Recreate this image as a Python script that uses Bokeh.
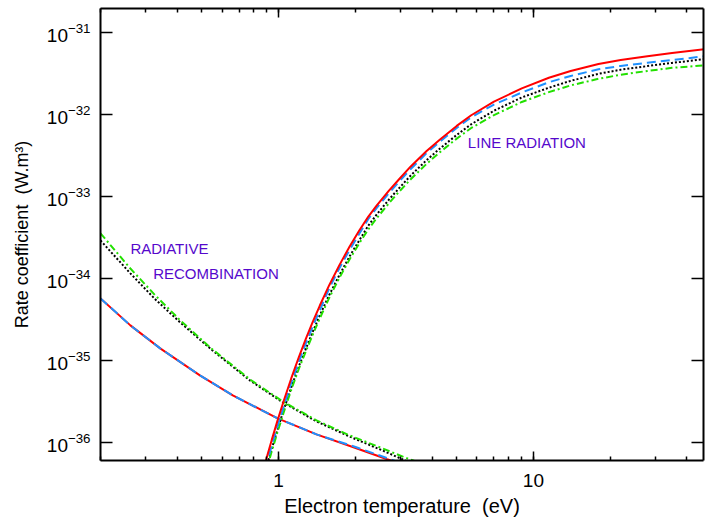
from bokeh.plotting import figure
from bokeh.models import LogAxis, LogTicker, Label, Range1d, CustomJSTickFormatter
from bokeh.embed import file_html
from bokeh.resources import INLINE

# ---------------- data ----------------
# Line radiation: electron temperature (eV) shared by the four models
lr_T = [0.83, 0.89, 0.94, 0.99, 1.05, 1.12, 1.2, 1.28, 1.36, 1.45, 1.58, 1.73, 1.9, 2.07, 2.25, 2.42,
        2.7, 2.97, 3.3, 3.8, 4.3, 5.0, 5.7, 7.0, 9.0, 11.5, 14, 18, 22, 28, 35, 47]
lr_red = [2.62e-37, 5.92e-37, 1.07e-36, 1.84e-36, 3.28e-36, 5.97e-36, 1.09e-35, 1.84e-35, 2.92e-35, 4.63e-35,
          8.26e-35, 1.44e-34, 2.45e-34, 3.81e-34, 5.68e-34, 7.67e-34, 1.16e-33, 1.62e-33, 2.32e-33, 3.55e-33,
          4.95e-33, 7.24e-33, 9.77e-33, 1.43e-32, 2.08e-32, 2.80e-32, 3.39e-32, 4.12e-32, 4.62e-32, 5.13e-32,
          5.60e-32, 6.24e-32]
lr_blue = [2.23e-37, 5.04e-37, 9.14e-37, 1.57e-36, 2.79e-36, 5.26e-36, 9.57e-36, 1.62e-35, 2.58e-35, 4.08e-35,
           7.53e-35, 1.32e-34, 2.23e-34, 3.48e-34, 5.30e-34, 7.16e-34, 1.08e-33, 1.51e-33, 2.16e-33, 3.35e-33,
           4.68e-33, 6.84e-33, 9.23e-33, 1.32e-32, 1.85e-32, 2.47e-32, 2.95e-32, 3.55e-32, 3.91e-32, 4.27e-32,
           4.60e-32, 5.13e-32]
lr_black = [2.04e-37, 4.59e-37, 8.34e-37, 1.43e-36, 2.55e-36, 4.63e-36, 8.43e-36, 1.39e-35, 2.22e-35, 3.52e-35,
            6.27e-35, 1.09e-34, 1.86e-34, 2.89e-34, 4.41e-34, 5.96e-34, 9.02e-34, 1.26e-33, 1.80e-33, 2.75e-33,
            3.85e-33, 5.62e-33, 7.59e-33, 1.11e-32, 1.61e-32, 2.12e-32, 2.57e-32, 3.13e-32, 3.51e-32, 3.89e-32,
            4.25e-32, 4.73e-32]
lr_green = [1.90e-37, 4.29e-37, 7.78e-37, 1.33e-36, 2.38e-36, 4.33e-36, 7.87e-36, 1.29e-35, 2.05e-35, 3.24e-35,
            5.78e-35, 1.01e-34, 1.71e-34, 2.67e-34, 3.97e-34, 5.37e-34, 8.13e-34, 1.14e-33, 1.62e-33, 2.48e-33,
            3.47e-33, 5.07e-33, 6.84e-33, 9.79e-33, 1.42e-32, 1.87e-32, 2.26e-32, 2.72e-32, 3.05e-32, 3.39e-32,
            3.70e-32, 3.98e-32]

# Radiative recombination
rr_red_T = [0.2, 0.262, 0.343, 0.491, 0.661, 0.991, 1.408, 2.018, 2.667, 3.556]
rr_red_R = [5.70e-35, 2.67e-35, 1.40e-35, 6.56e-36, 3.74e-36, 1.96e-36, 1.25e-36, 8.45e-37, 6.21e-37, 4.56e-37]

rr_blue_T = [0.2, 0.262, 0.343, 0.491, 0.661, 0.991, 1.408, 2.018, 2.667, 3.556]
rr_blue_R = [5.70e-35, 2.67e-35, 1.40e-35, 6.56e-36, 3.74e-36, 1.96e-36, 1.25e-36, 8.70e-37, 6.40e-37, 4.70e-37]

rr_green_T = [0.2, 0.262, 0.328, 0.411, 0.538, 0.771, 1.037, 1.408, 1.894, 2.550, 3.192, 4.257]
rr_green_R = [3.54e-34, 1.32e-34, 6.21e-35, 3.08e-35, 1.44e-35, 5.86e-36, 3.16e-36, 1.85e-36, 1.22e-36, 8.45e-37, 6.38e-37, 4.69e-37]

rr_black_T = [0.2, 0.262, 0.328, 0.411, 0.538, 0.771, 1.037, 1.408, 1.894, 2.550, 3.192, 4.257]
rr_black_R = [2.90e-34, 1.15e-34, 5.55e-35, 2.90e-35, 1.40e-35, 5.70e-36, 3.08e-36, 1.80e-36, 1.18e-36, 7.98e-37, 5.86e-37, 4.31e-37]

labels = ["RADIATIVE", "RECOMBINATION", "LINE RADIATION"]
label_T = [0.262, 0.322, 5.53]
label_R = [2.32e-34, 1.15e-34, 4.56e-33]

x_lo, x_hi = 0.2, 46.5
y_lo, y_hi = 6.0e-37, 1.96e-31

# ---------------- figure ----------------
FONT = "Liberation Sans"
p = figure(width=707, height=527, x_axis_type="log", y_axis_type="log",
           x_range=Range1d(x_lo, x_hi), y_range=Range1d(y_lo, y_hi),
           output_backend="svg", toolbar_location=None,
           min_border_left=100, min_border_right=1, min_border_top=8, min_border_bottom=67)
p.background_fill_color = "white"
p.border_fill_color = "white"
p.outline_line_color = None
p.grid.visible = False

def style_axis(ax, major_len, minor_on, show_labels):
    ax.axis_line_color = "black"
    ax.axis_line_width = 2
    ax.major_tick_in = major_len
    ax.major_tick_out = 0
    ax.major_tick_line_color = "black"
    ax.major_tick_line_width = 1.5
    if minor_on:
        ax.minor_tick_in = 4
        ax.minor_tick_out = 0
        ax.minor_tick_line_color = "black"
        ax.minor_tick_line_width = 1.5
    else:
        ax.minor_tick_line_color = None
    ax.major_label_text_font = FONT
    ax.major_label_text_font_size = "19px"
    ax.major_label_text_color = "black"
    ax.axis_label_text_font = FONT
    ax.axis_label_text_font_style = "normal"
    ax.axis_label_text_font_size = "18px"
    ax.axis_label_text_color = "black"
    if not show_labels:
        ax.formatter = CustomJSTickFormatter(code="return ''")
        ax.major_label_standoff = 0

xa = p.xaxis[0]
xa.ticker = LogTicker(num_minor_ticks=10)
style_axis(xa, 9, True, True)
xa.formatter = CustomJSTickFormatter(code="return tick.toString()")
xa.axis_label = "Electron temperature\u00a0\u00a0(eV)"
xa.axis_label_text_font_size = "20px"
xa.major_label_standoff = 13
xa.axis_label_standoff = 5

ya = p.yaxis[0]
style_axis(ya, 12, False, True)
ya.axis_label = "Rate coefficient\u00a0\u00a0(W.m³)"
ya.major_label_standoff = 6
ya.axis_label_standoff = 12

top = LogAxis(ticker=LogTicker(num_minor_ticks=10))
style_axis(top, 9, True, False)
p.add_layout(top, "above")

right = LogAxis()
style_axis(right, 12, False, False)
p.add_layout(right, "right")

# ---------------- curves ----------------
BLACK = "black"
GREEN = "#22e000"
RED = "#ff0000"
BLUE = "#1e90ff"

p.line(rr_black_T, rr_black_R, line_color=BLACK, line_width=2, line_dash="2 2")
p.line(rr_green_T, rr_green_R, line_color=GREEN, line_width=2, line_dash="7 3 2 3")
p.line(rr_red_T, rr_red_R, line_color=RED, line_width=2)
p.line(rr_blue_T, rr_blue_R, line_color=BLUE, line_width=2, line_dash="9 5")

p.line(lr_T, lr_black, line_color=BLACK, line_width=2, line_dash="2 2")
p.line(lr_T, lr_green, line_color=GREEN, line_width=2, line_dash="7 3 2 3")
p.line(lr_T, lr_blue, line_color=BLUE, line_width=2, line_dash="9 5")
p.line(lr_T, lr_red, line_color=RED, line_width=2)

for t, xx, yy in zip(labels, label_T, label_R):
    p.add_layout(Label(x=xx, y=yy, text=t, text_font=FONT, text_font_size="15px",
                       text_color="#5508cc", text_baseline="middle", text_align="left"))

open("out.html", "w").write(file_html(p, INLINE))
